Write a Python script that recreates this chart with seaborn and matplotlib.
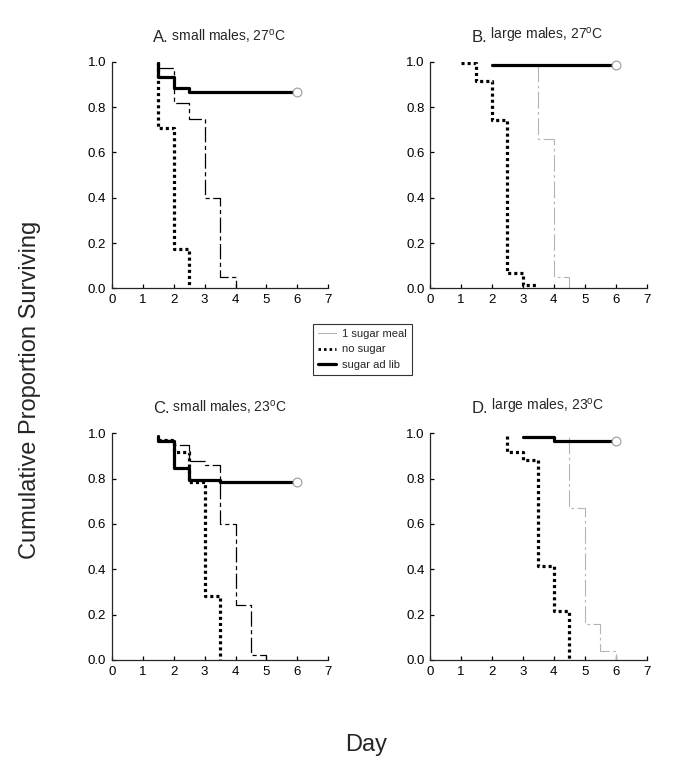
import numpy as np
import pandas as pd
import matplotlib
matplotlib.use("Agg")
import matplotlib.pyplot as plt
from matplotlib.lines import Line2D
import seaborn as sns

# survival steps: times (days) and proportion surviving
# A. small males, 27C
a_meal_t = [1.5, 2.0, 2.5, 3.0, 3.5, 4.0]
a_meal_s = [0.971, 0.82, 0.747, 0.40, 0.051, 0.0]
a_none_t = [1.5, 1.5, 2.0, 2.5]
a_none_s = [1.0, 0.706, 0.172, 0.0]
a_lib_t = [1.5, 1.5, 2.0, 2.5, 6.0]
a_lib_s = [0.993, 0.934, 0.882, 0.868, 0.868]

# B. large males, 27C
b_meal_t = [3.5, 3.5, 4.0, 4.5]
b_meal_s = [0.985, 0.659, 0.049, 0.0]
b_none_t = [1.0, 1.5, 2.0, 2.5, 3.0, 3.5]
b_none_s = [0.996, 0.915, 0.743, 0.066, 0.015, 0.015]
b_lib_t = [2.0, 6.0]
b_lib_s = [0.985, 0.985]

# C. small males, 23C
c_meal_t = [1.5, 2.0, 2.5, 3.0, 3.5, 4.0, 4.5, 5.0]
c_meal_s = [0.97, 0.949, 0.878, 0.862, 0.602, 0.242, 0.022, 0.0]
c_none_t = [1.5, 2.0, 2.5, 3.0, 3.5]
c_none_s = [0.97, 0.919, 0.787, 0.282, 0.0]
c_lib_t = [1.5, 1.5, 2.0, 2.5, 3.5, 6.0]
c_lib_s = [0.988, 0.968, 0.849, 0.796, 0.786, 0.786]

# D. large males, 23C
d_meal_t = [4.5, 4.5, 5.0, 5.5, 6.0]
d_meal_s = [0.985, 0.671, 0.161, 0.040, 0.0]
d_none_t = [2.5, 2.5, 3.0, 3.5, 4.0, 4.5]
d_none_s = [0.99, 0.918, 0.884, 0.414, 0.217, 0.0]
d_lib_t = [3.0, 4.0, 6.0]
d_lib_s = [0.985, 0.968, 0.968]

panel_letters = ["A.", "B.", "C.", "D."]
panel_titles = [" small males, 27$^\\mathregular{o}$C", " large males, 27$^\\mathregular{o}$C",
                " small males, 23$^\\mathregular{o}$C", " large males, 23$^\\mathregular{o}$C"]
group_labels = ["1 sugar meal", "no sugar", "sugar ad lib"]

sns.set_style("ticks")
plt.rcParams["font.family"] = ["Liberation Sans", "DejaVu Sans"]
plt.rcParams["lines.scale_dashes"] = False
plt.rcParams["axes.linewidth"] = 0.9

W, H = 685, 777
fig = plt.figure(figsize=(W / 100, H / 100), dpi=100)

# axes boxes in pixels: (x0, y_top); all the same size
boxes = [(111.7, 61.7), (430.0, 61.7), (111.7, 433.3), (430.0, 433.3)]
aw, ah = 216.7, 226.7

dark_dash = dict(color="black", lw=0.9, linestyle=(0, (11, 2.5, 3, 2.5)))
gray_dash = dict(color="#b5b5b5", lw=0.8, linestyle=(0, (12, 2.5, 2, 2.5)))
dot_style = dict(color="black", lw=2.3, linestyle=(0, (2.2, 2.2)))
lib_style = dict(color="black", lw=2.3, linestyle="-")

data = [
    (a_meal_t, a_meal_s, a_none_t, a_none_s, a_lib_t, a_lib_s, dark_dash),
    (b_meal_t, b_meal_s, b_none_t, b_none_s, b_lib_t, b_lib_s, gray_dash),
    (c_meal_t, c_meal_s, c_none_t, c_none_s, c_lib_t, c_lib_s, dark_dash),
    (d_meal_t, d_meal_s, d_none_t, d_none_s, d_lib_t, d_lib_s, gray_dash),
]

for i, (mt, ms, nt, ns, lt, ls, meal_style) in enumerate(data):
    x0, yt = boxes[i]
    ax = fig.add_axes([x0 / W, 1 - (yt + ah) / H, aw / W, ah / H])

    sns.lineplot(x=mt, y=ms, ax=ax, estimator=None, sort=False,
                 drawstyle="steps-post", **meal_style)
    sns.lineplot(x=nt, y=ns, ax=ax, estimator=None, sort=False,
                 drawstyle="steps-post", dash_capstyle="butt", **dot_style)
    sns.lineplot(x=lt, y=ls, ax=ax, estimator=None, sort=False,
                 drawstyle="steps-post", **lib_style)
    # censored end point
    sns.scatterplot(x=lt[-1:], y=ls[-1:], ax=ax, s=40, facecolor="white",
                    edgecolor="#9a9a9a", linewidth=0.8, zorder=5, clip_on=False)

    ax.set_xlim(0, 7)
    ax.set_ylim(0, 1.0)
    ax.set_xticks(range(8))
    ax.set_yticks(np.arange(0, 1.01, 0.2))
    ax.set_yticklabels([f"{v:.1f}" for v in np.arange(0, 1.01, 0.2)])
    ax.tick_params(direction="in", length=3, width=0.9, labelsize=9.5, pad=4,
                   colors="black")
    ax.set_xlabel("")
    ax.set_ylabel("")
    sns.despine(ax=ax)

    t1 = ax.text(0.19, 1.088, panel_letters[i], transform=ax.transAxes,
                 fontsize=12, va="baseline", ha="left")
    ax.annotate(panel_titles[i], xy=(1, 0), xycoords=t1, fontsize=10,
                va="bottom", ha="left")

handles = [
    Line2D([], [], color="#b5b5b5", lw=0.8),
    Line2D([], [], color="black", lw=2.0, linestyle=(0, (1.8, 2.2))),
    Line2D([], [], **lib_style),
]
leg = fig.legend(handles, group_labels, loc="center",
                 bbox_to_anchor=(362.5 / W, 1 - 349.5 / H), fontsize=8,
                 frameon=True, fancybox=False, handlelength=1.6,
                 handletextpad=0.5, borderpad=0.45, labelspacing=0.5,
                 borderaxespad=0)
leg.get_frame().set_edgecolor("black")
leg.get_frame().set_linewidth(0.8)

fig.text(30 / W, 1 - 390 / H, "Cumulative Proportion Surviving", rotation=90,
         fontsize=17, ha="center", va="center")
fig.text(366 / W, 1 - 745 / H, "Day", fontsize=17, ha="center", va="center")

fig.savefig("out.png", dpi=100)
